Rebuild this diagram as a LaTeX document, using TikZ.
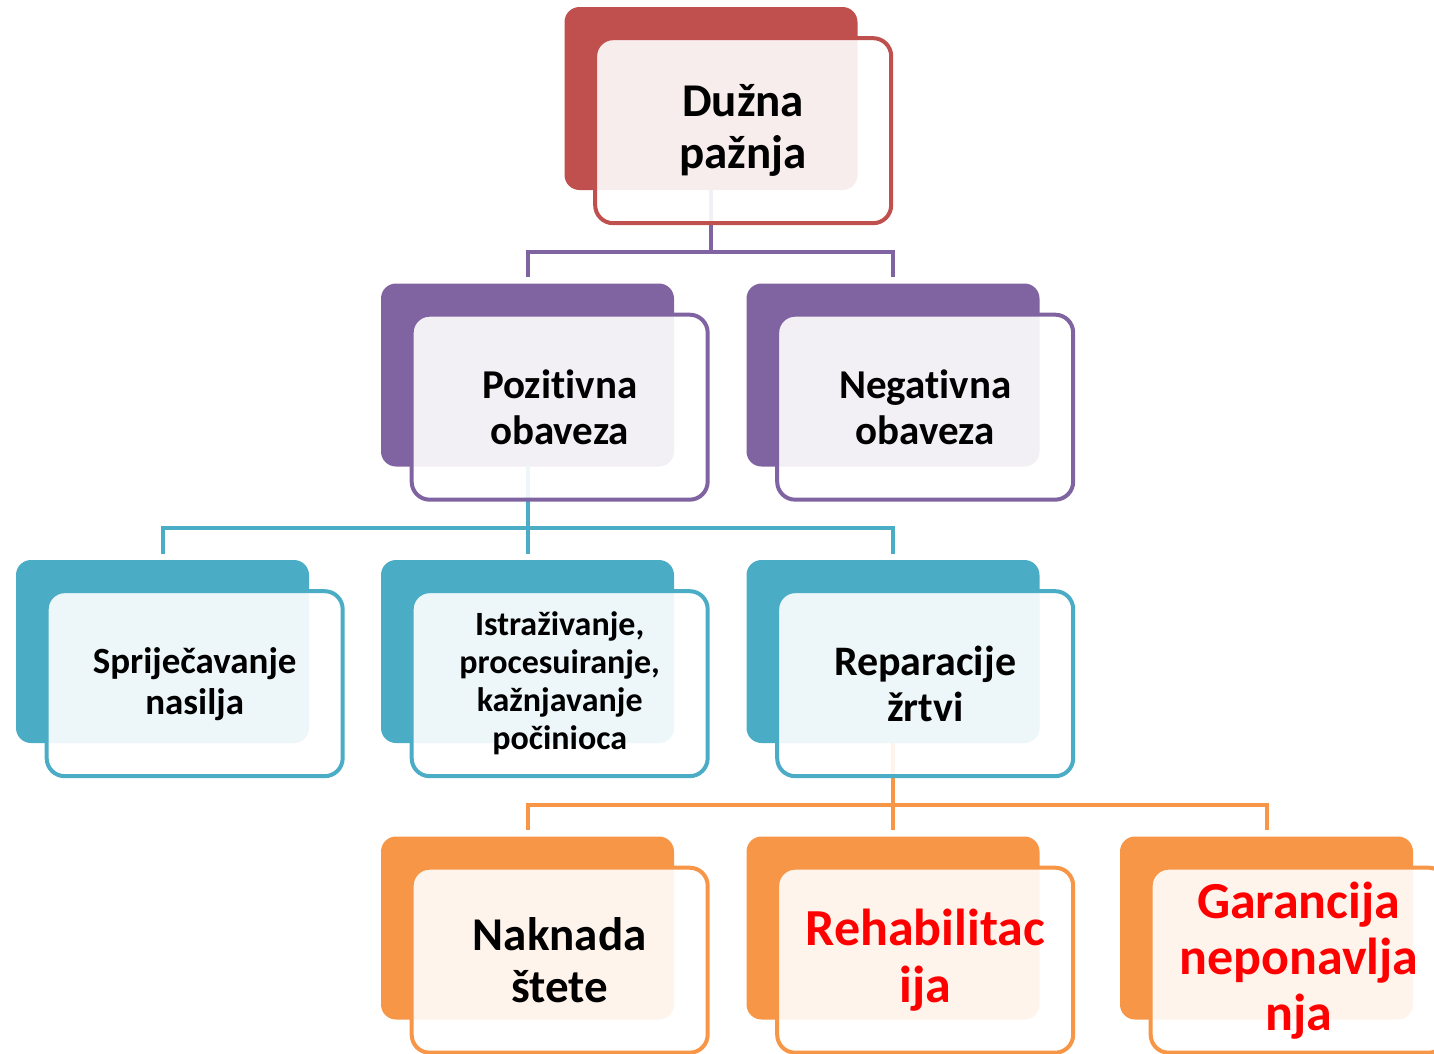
\documentclass[tikz,border=0pt]{standalone}
\usepackage{fontspec}
\setmainfont{Carlito}[Ligatures={NoCommon,NoContextual}]
\definecolor{offred}{HTML}{C0504D}
\definecolor{offpurple}{HTML}{8064A2}
\definecolor{offteal}{HTML}{4BACC6}
\definecolor{offorange}{HTML}{F79646}
\begin{document}
\begin{tikzpicture}[x=1pt,y=-1pt,
	backcard/.style={rounded corners=15pt,minimum width=293pt,minimum height=183pt,inner sep=0pt,fill=#1},
	frontcard/.style={rounded corners=18pt,minimum width=296pt,minimum height=185pt,inner sep=0pt,draw=#1,line width=4pt,fill=white,fill opacity=0.9,text opacity=1,align=center},
	size/.style 2 args={font=\bfseries\fontsize{#1pt}{#2pt}\selectfont},
	link/.style={draw=#1,line width=4pt,shorten >=6pt}]

	\clip (0,0) rectangle (1434,1053);

	\node[backcard=offred] (duznaBg) at (711,98.5) {};
	\node[backcard=offpurple] (pozBg) at (527.5,375) {};
	\node[backcard=offpurple] (negBg) at (893,375) {};
	\node[backcard=offteal] (sprBg) at (162.5,651.5) {};
	\node[backcard=offteal] (istBg) at (527.5,651.5) {};
	\node[backcard=offteal] (repBg) at (893,651.5) {};
	\node[backcard=offorange] (nakBg) at (527.5,928) {};
	\node[backcard=offorange] (rehBg) at (893,928) {};
	\node[backcard=offorange] (garBg) at (1266.5,928) {};

	\path[link=offpurple] (duznaBg.south) -- ++(0,61.5) coordinate (j1) -| (pozBg.north);
	\path[link=offpurple] (j1) -| (negBg.north);
	\path[link=offteal] (pozBg.south) -- ++(0,61.5) coordinate (j2) -| (sprBg.north);
	\path[link=offteal] (j2) -| (istBg.north);
	\path[link=offteal] (j2) -| (repBg.north);
	\path[link=offorange] (repBg.south) -- ++(0,61.5) coordinate (j3) -| (nakBg.north);
	\path[link=offorange] (j3) -| (rehBg.north);
	\path[link=offorange] (j3) -| (garBg.north);

	\node[frontcard=offred,size={47}{52}] (duzna) [below right of=duznaBg, node distance=45.5pt] {Dužna\\pažnja};
	\node[frontcard=offpurple,size={41}{46}] (poz) [below right of=pozBg, node distance=45.5pt] {Pozitivna\\obaveza};
	\node[frontcard=offpurple,size={41}{46}] (neg) [below right of=negBg, node distance=45.5pt] {Negativna\\obaveza};
	\node[frontcard=offteal,size={37}{41}] (spr) [below right of=sprBg, node distance=45.5pt] {Spriječavanje\\nasilja};
	\node[frontcard=offteal,size={34}{38}] (ist) [below right of=istBg, node distance=45.5pt] {Istraživanje,\\procesuiranje,\\kažnjavanje\\počinioca};
	\node[frontcard=offteal,size={42}{46}] (rep) [below right of=repBg, node distance=45.5pt] {Reparacije\\žrtvi};
	\node[frontcard=offorange,size={47}{52}] (nak) [below right of=nakBg, node distance=45.5pt] {Naknada\\štete};
	\node[frontcard=offorange,size={52}{57},text=red] (reh) [below right of=rehBg, node distance=45.5pt] {Rehabilitac\\ija};
	\node[frontcard=offorange,size={52}{56},text=red] (gar) [below right of=garBg, node distance=45.5pt] {Garancija\\neponavlja\\nja};

	%\node[frontcard=offorange] (extra) [below of=nak, node distance=2cm] {};

\end{tikzpicture}
\end{document}
